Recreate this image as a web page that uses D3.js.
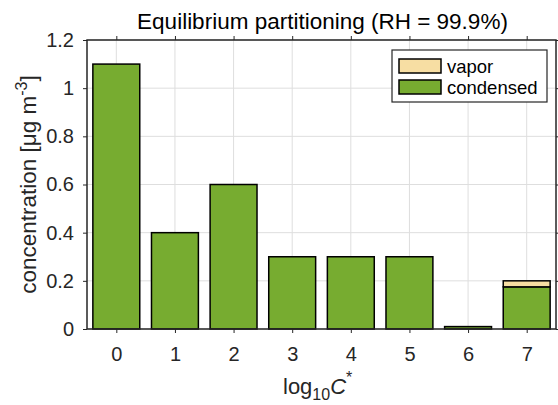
<!DOCTYPE html>
<html>
<head>
<meta charset="utf-8">
<script src="https://cdn.jsdelivr.net/npm/d3@7"></script>
<style>
  html, body { margin: 0; padding: 0; background: #fff; }
  svg { display: block; font-family: "Liberation Sans", Arial, Helvetica, sans-serif; }
</style>
</head>
<body>
<svg id="chart" width="558" height="405"></svg>
<script>
// Volatility bins (log10 C*) and mass in each phase
const bins = [0, 1, 2, 3, 4, 5, 6, 7];
const condensed = [1.1, 0.4, 0.6, 0.3, 0.3, 0.3, 0.01, 0.175];
const vapor = [0, 0, 0, 0, 0, 0, 0, 0.025];
const yTicks = [0, 0.2, 0.4, 0.6, 0.8, 1, 1.2];
const seriesNames = ["vapor", "condensed"];
const seriesColors = { vapor: "#F7DEA3", condensed: "#77AC30" };

const svg = d3.select("#chart");
const margin = { left: 87, right: 2, top: 40, bottom: 76 };
const W = 558, H = 405;
const x0 = margin.left, x1 = W - margin.right;
const y0 = H - margin.bottom, y1 = margin.top;

const x = d3.scaleLinear().domain([-0.5, 7.5]).range([x0, x1]);
const y = d3.scaleLinear().domain([0, 1.2]).range([y0, y1]);
const axisColor = "#262626";
const barW = 0.8;

// grid
const grid = svg.append("g");
grid.selectAll("line.gx").data(bins).enter().append("line")
  .attr("x1", d => x(d)).attr("x2", d => x(d))
  .attr("y1", y1).attr("y2", y0)
  .attr("stroke", "#dedede").attr("stroke-width", 1);
grid.selectAll("line.gy").data(yTicks).enter().append("line")
  .attr("x1", x0).attr("x2", x1)
  .attr("y1", d => y(d)).attr("y2", d => y(d))
  .attr("stroke", "#dedede").attr("stroke-width", 1);

// stacked bars: condensed at the bottom, vapor on top
const rows = bins.map((b, i) => ({ bin: b, condensed: condensed[i], vapor: vapor[i] }));
const stack = d3.stack().keys(["condensed", "vapor"])(rows);
const bars = svg.append("g");
stack.forEach(layer => {
  bars.selectAll(null).data(layer.filter(d => d[1] - d[0] > 0)).enter().append("rect")
    .attr("x", d => x(d.data.bin - barW / 2))
    .attr("width", d => x(d.data.bin + barW / 2) - x(d.data.bin - barW / 2))
    .attr("y", d => y(d[1]))
    .attr("height", d => y(d[0]) - y(d[1]))
    .attr("fill", seriesColors[layer.key])
    .attr("stroke", "#000").attr("stroke-width", 1.5);
});

// axes (box with outward ticks)
const xAxis = d3.axisBottom(x).tickValues(bins).tickFormat(d3.format("d")).tickSize(4).tickPadding(14);
const xTop = d3.axisTop(x).tickValues(bins).tickFormat("").tickSize(4);
const yAxis = d3.axisLeft(y).tickValues(yTicks).tickFormat(d => String(d)).tickSize(4).tickPadding(9);
const yRight = d3.axisRight(y).tickValues(yTicks).tickFormat("").tickSize(4);

function styleAxis(g) {
  g.select(".domain").remove();
  g.selectAll(".tick line").attr("stroke", axisColor).attr("stroke-width", 1);
  g.selectAll(".tick text").attr("fill", axisColor).style("font-size", "20px")
    .style("font-family", '"Liberation Sans", Arial, sans-serif');
}
svg.append("g").attr("transform", `translate(0,${y0})`).call(xAxis).call(styleAxis);
svg.append("g").attr("transform", `translate(0,${y1})`).call(xTop).call(styleAxis);
svg.append("g").attr("transform", `translate(${x0},0)`).call(yAxis).call(styleAxis);
svg.append("g").attr("transform", `translate(${x1},0)`).call(yRight).call(styleAxis);

svg.append("rect").attr("x", x0).attr("y", y1).attr("width", x1 - x0).attr("height", y0 - y1)
  .attr("fill", "none").attr("stroke", axisColor).attr("stroke-width", 1.5);

// title
svg.append("text").attr("x", (x0 + x1) / 2 + 1).attr("y", 29)
  .attr("text-anchor", "middle").attr("fill", "#000").style("font-size", "22.5px")
  .text("Equilibrium partitioning (RH = 99.9%)");

// x label: log10 C*
const xl = svg.append("text").attr("x", 283).attr("y", 394)
  .attr("text-anchor", "start").attr("fill", axisColor).style("font-size", "22px");
xl.append("tspan").text("log");
xl.append("tspan").attr("dy", 6).style("font-size", "16px").text("10");
xl.append("tspan").attr("dy", -6).style("font-style", "italic").text("C");
xl.append("tspan").attr("dy", -11).style("font-size", "16px").text("*");

// y label
const yl = svg.append("text")
  .attr("transform", `translate(36,${(y0 + y1) / 2}) rotate(-90)`)
  .attr("text-anchor", "middle").attr("fill", axisColor).style("font-size", "22.5px");
yl.append("tspan").text("concentration [μg m");
yl.append("tspan").attr("dy", -9).style("font-size", "16px").text("-3");
yl.append("tspan").attr("dy", 9).text("]");

// legend
const lg = svg.append("g").attr("transform", "translate(392,50)");
lg.append("rect").attr("width", 155).attr("height", 52)
  .attr("fill", "#fff").attr("stroke", axisColor).attr("stroke-width", 1.2);
seriesNames.forEach((name, i) => {
  const row = lg.append("g").attr("transform", `translate(7,${9 + i * 21})`);
  row.append("rect").attr("width", 42).attr("height", 14)
    .attr("fill", seriesColors[name]).attr("stroke", "#000").attr("stroke-width", 1.5);
  row.append("text").attr("x", 48).attr("y", 14).attr("fill", "#000")
    .style("font-size", "18.5px").text(name);
});
</script>
</body>
</html>
